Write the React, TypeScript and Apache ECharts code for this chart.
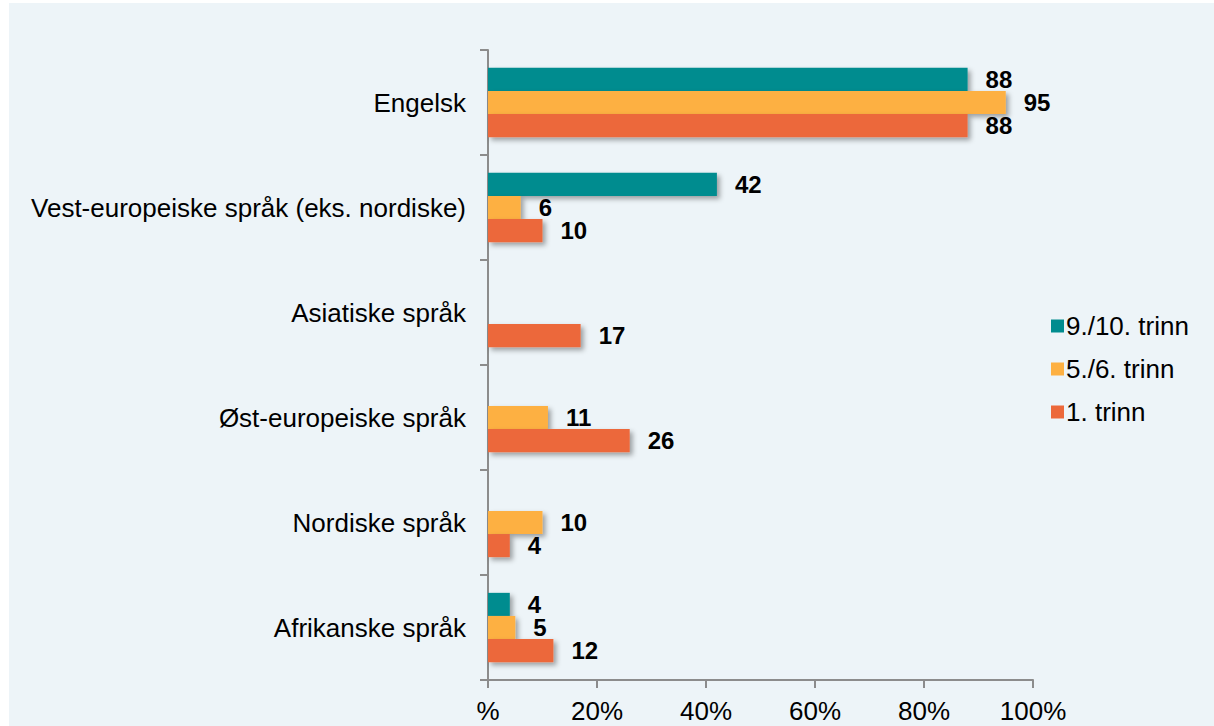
import React, { useEffect, useRef } from "react";
import * as echarts from "echarts";

const categories = [
  "Engelsk",
  "Vest-europeiske språk (eks. nordiske)",
  "Asiatiske språk",
  "Øst-europeiske språk",
  "Nordiske språk",
  "Afrikanske språk",
];
const seriesNames = ["9./10. trinn", "5./6. trinn", "1. trinn"];
const trinn910 = [88, 42, null, null, null, 4];
const trinn56 = [95, 6, null, 11, 10, 5];
const trinn1 = [88, 10, 17, 26, 4, 12];
const colors = ["#008C8F", "#FDB042", "#EC683A"];

export default function App() {
  const ref = useRef<HTMLDivElement>(null);
  useEffect(() => {
    document.body.style.margin = "0";
    const chart = echarts.init(ref.current!, null, { renderer: "svg" });
    const font = "Arial, 'Liberation Sans', sans-serif";
    const mk = (name: string, data: (number | null)[], color: string) => ({
      name,
      type: "bar",
      data,
      barCategoryGap: "34%",
      barGap: "0%",
      itemStyle: {
        color,
        shadowBlur: 5,
        shadowOffsetX: 3,
        shadowOffsetY: 3,
        shadowColor: "rgba(0,0,0,0.35)",
      },
      label: {
        show: true,
        position: "right",
        distance: 18,
        color: "#000",
        fontWeight: "bold",
        fontSize: 24,
        fontFamily: font,
      },
    });
    chart.setOption({
      animation: false,
      graphic: [
        {
          type: "rect",
          shape: { x: 9, y: 3, width: 1214, height: 726 },
          style: { fill: "#EDF4F8" },
          z: -10,
          silent: true,
        },
      ],
      legend: {
        orient: "vertical",
        left: 1046,
        top: 308,
        itemWidth: 13,
        itemHeight: 13,
        itemGap: 17,
        icon: "rect",
        data: seriesNames,
        textStyle: { fontSize: 26, fontFamily: font, color: "#000", padding: [0, 0, 0, -3] },
      },
      grid: { left: 488, top: 50, width: 545, height: 630, containLabel: false },
      xAxis: {
        type: "value",
        min: 0,
        max: 100,
        interval: 20,
        axisLine: { show: true, lineStyle: { color: "#8C8C8C", width: 2 } },
        axisTick: { show: true, length: 8, lineStyle: { color: "#8C8C8C", width: 2 } },
        splitLine: { show: false },
        axisLabel: {
          fontSize: 26,
          fontFamily: font,
          color: "#000",
          margin: 18,
          formatter: (v: number) => (v === 0 ? "%" : v + "%"),
        },
      },
      yAxis: {
        type: "category",
        inverse: true,
        data: categories,
        axisLine: { show: true, lineStyle: { color: "#8C8C8C", width: 2 } },
        axisTick: { show: true, length: 8, lineStyle: { color: "#8C8C8C", width: 2 } },
        axisLabel: { fontSize: 26, fontFamily: font, color: "#000", margin: 22 },
      },
      series: [
        mk(seriesNames[0], trinn910, colors[0]),
        mk(seriesNames[1], trinn56, colors[1]),
        mk(seriesNames[2], trinn1, colors[2]),
      ],
    });
    return () => chart.dispose();
  }, []);
  return <div ref={ref} style={{ width: 1214, height: 726 }} />;
}
